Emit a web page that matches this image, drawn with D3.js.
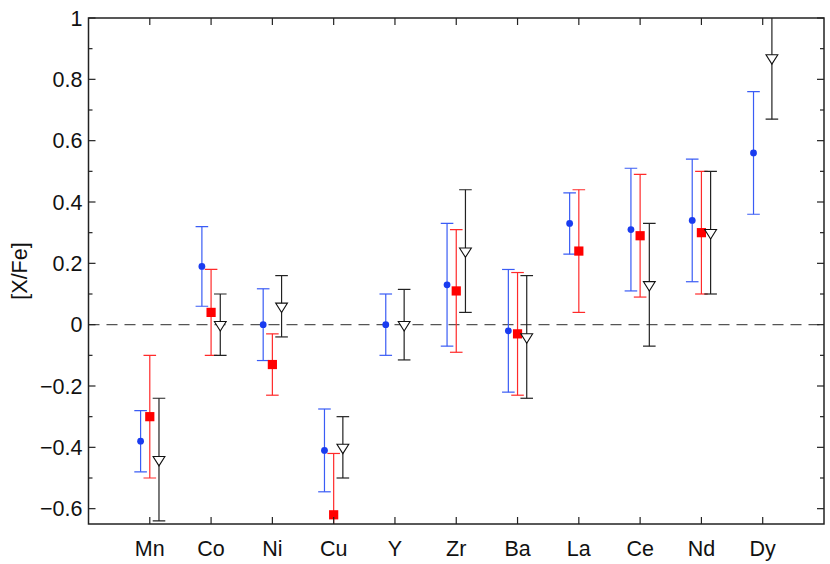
<!DOCTYPE html>
<html><head><meta charset="utf-8">
<script src="https://cdn.jsdelivr.net/npm/d3@7"></script>
<style>body{margin:0;background:#fff}svg{display:block}text{font-family:"Liberation Sans",Arial,sans-serif}</style>
</head><body><svg id="c" width="830" height="564"></svg>
<script>
const elements = ["Mn","Co","Ni","Cu","Y","Zr","Ba","La","Ce","Nd","Dy"];
// blue circles: value, error
const blueVal = [-0.38, 0.19, 0.00, -0.41, 0.00, 0.13, -0.02, 0.33, 0.31, 0.34, 0.56];
const blueErr = [0.10, 0.13, 0.117, 0.135, 0.10, 0.20, 0.20, 0.10, 0.20, 0.20, 0.20];
// red squares
const redVal = [-0.30, 0.04, -0.13, -0.62, null, 0.11, -0.03, 0.24, 0.29, 0.30, null];
const redErr = [0.20, 0.14, 0.10, 0.20, null, 0.20, 0.20, 0.20, 0.20, 0.20, null];
// black open triangles
const blackVal = [-0.44, 0.00, 0.06, -0.40, 0.00, 0.24, -0.04, null, 0.13, 0.30, 0.87];
const blackErr = [0.20, 0.10, 0.10, 0.10, 0.115, 0.20, 0.20, null, 0.20, 0.20, 0.20];
const yTicks = [-0.6,-0.4,-0.2,0,0.2,0.4,0.6,0.8,1];

const L=88.5, R=824, T=18, B=524;
const svg = d3.select("#c");
const x = d3.scaleLinear().domain([0, elements.length+1]).range([L,R]);
const y = d3.scaleLinear().domain([-0.65, 1.0]).range([B,T]);

svg.append("defs").append("clipPath").attr("id","clip")
  .append("rect").attr("x",L).attr("y",T).attr("width",R-L).attr("height",B-T);

// zero line
svg.append("line").attr("x1",L).attr("x2",R).attr("y1",y(0)).attr("y2",y(0))
  .attr("stroke","#555").attr("stroke-width",1.3).attr("stroke-dasharray","11,7");

const g = svg.append("g").attr("clip-path","url(#clip)");
const off = 0.15, cap = 6.3;
const series = [
  {vals: blueVal, errs: blueErr, dx: -off, bar: "#3a5cf5", kind: "circle"},
  {vals: redVal, errs: redErr, dx: 0, bar: "#ff2a2a", kind: "square"},
  {vals: blackVal, errs: blackErr, dx: off, bar: "#222", kind: "tri"}
];
series.forEach(s => {
  const data = elements.map((e,i)=>({i, v:s.vals[i], e:s.errs[i]})).filter(d=>d.v!==null);
  const grp = g.append("g");
  data.forEach(d => {
    const cx = x(d.i+1+s.dx);
    grp.append("line").attr("x1",cx).attr("x2",cx).attr("y1",y(d.v-d.e)).attr("y2",y(d.v+d.e))
      .attr("stroke",s.bar).attr("stroke-width",1.2);
    [d.v-d.e, d.v+d.e].forEach(yy => grp.append("line").attr("x1",cx-cap).attr("x2",cx+cap)
      .attr("y1",y(yy)).attr("y2",y(yy)).attr("stroke",s.bar).attr("stroke-width",1.2));
  });
  data.forEach(d => {
    const cx = x(d.i+1+s.dx), cy = y(d.v);
    if (s.kind==="circle") grp.append("circle").attr("cx",cx).attr("cy",cy).attr("r",3.4).attr("fill","#1a3cf0");
    else if (s.kind==="square") grp.append("rect").attr("x",cx-4.6).attr("y",cy-4.6).attr("width",9.2).attr("height",9.2).attr("fill","#ff0000");
    else {
      const h=9.4, w=5.9;
      grp.append("path").attr("d",`M${cx-w},${cy-h/3}L${cx+w},${cy-h/3}L${cx},${cy+2*h/3}Z`)
        .attr("fill","#fff").attr("stroke","#111").attr("stroke-width",1.1);
    }
  });
});

// frame
svg.append("rect").attr("x",L).attr("y",T).attr("width",R-L).attr("height",B-T)
  .attr("fill","none").attr("stroke","#222").attr("stroke-width",1.5);

// axes with inward ticks
const tickColor = "#222";
const yMinor = d3.range(-6,11).map(k=>k/10).filter(v=>Math.abs(Math.round(v*10)%2)===1);
function drawY(pos, dir){
  yTicks.forEach(v=>svg.append("line").attr("x1",pos).attr("x2",pos+dir*7).attr("y1",y(v)).attr("y2",y(v)).attr("stroke",tickColor).attr("stroke-width",1.2));
  yMinor.forEach(v=>svg.append("line").attr("x1",pos).attr("x2",pos+dir*4).attr("y1",y(v)).attr("y2",y(v)).attr("stroke",tickColor).attr("stroke-width",1.2));
}
drawY(L,1); drawY(R,-1);
const fs = 21.5;
elements.forEach((e,i)=>{
  const cx=x(i+1);
  svg.append("line").attr("x1",cx).attr("x2",cx).attr("y1",B).attr("y2",B-7).attr("stroke",tickColor).attr("stroke-width",1.2);
  svg.append("line").attr("x1",cx).attr("x2",cx).attr("y1",T).attr("y2",T+7).attr("stroke",tickColor).attr("stroke-width",1.2);
  svg.append("text").attr("x",cx).attr("y",556).attr("text-anchor","middle").attr("font-size",fs).attr("fill","#111").text(e);
});
const fmt = v => v===0 ? "0" : (v<0 ? "\u2212" : "") + (Math.abs(v)===1 ? "1" : Math.abs(v).toFixed(1));
yTicks.forEach(v=>svg.append("text").attr("x",82.5).attr("y",y(v)+7.7).attr("text-anchor","end").attr("font-size",fs).attr("fill","#111").text(fmt(v)));

svg.append("text").attr("transform","translate(26.5,271) rotate(-90)").attr("text-anchor","middle")
  .attr("font-size",fs).attr("fill","#111").text("[X/Fe]");
</script></body></html>
